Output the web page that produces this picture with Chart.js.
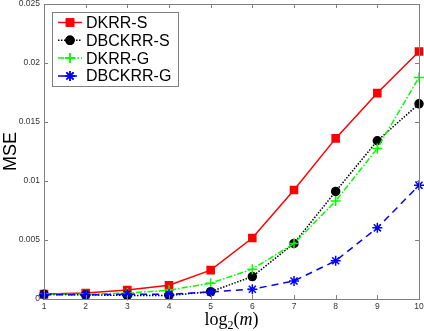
<!DOCTYPE html>
<html>
<head>
<meta charset="utf-8">
<script src="https://cdn.jsdelivr.net/npm/chart.js@4.4.1/dist/chart.umd.min.js"></script>
<style>
  html, body { margin: 0; padding: 0; background: #fff; }
  #wrap { width: 424px; height: 331px; }
</style>
</head>
<body>
<div id="wrap"><canvas id="mseChart" width="424" height="331"></canvas></div>
<script>
const logM = [1, 2, 3, 4, 5, 6, 7, 8, 9, 10];
const dkrrS = [0.00043, 0.0005, 0.00077, 0.00117, 0.00245, 0.00517, 0.00923, 0.01361, 0.01745, 0.02097];
const dbckrrS = [0.0004, 0.00035, 0.0003, 0.0003, 0.00062, 0.0019, 0.00471, 0.00912, 0.01341, 0.01654];
const dkrrG = [0.0004, 0.0004, 0.0005, 0.00074, 0.00134, 0.00253, 0.0047, 0.0083, 0.01276, 0.01878];
const dbckrrG = [0.00035, 0.00035, 0.0004, 0.0004, 0.0006, 0.00083, 0.00153, 0.00324, 0.00603, 0.00963];
const yTicks = [0, 0.005, 0.01, 0.015, 0.02, 0.025];
const yTickLabels = ["0", "0.005", "0.01", "0.015", "0.02", "0.025"];

const toPoints = (vals) => vals.map((v, i) => ({ x: logM[i], y: v }));

const seriesStyle = [
  { label: "DKRR-S", data: dkrrS, color: "#ff0000", dash: [], point: "rect", radius: 5, fill: true },
  { label: "DBCKRR-S", data: dbckrrS, color: "#000000", dash: [1.5, 1.5], point: "circle", radius: 4, fill: true },
  { label: "DKRR-G", data: dkrrG, color: "#00ff00", dash: [6, 2, 1.5, 2], point: "cross", radius: 5, fill: false },
  { label: "DBCKRR-G", data: dbckrrG, color: "#0000ff", dash: [7, 5], point: "star", radius: 5, fill: false },
];

// frame, inward ticks, x title and the legend box
const framePlugin = {
  id: "frame",
  afterDraw(chart) {
    const ctx = chart.ctx;
    const a = chart.chartArea;
    const xs = chart.scales.x;
    const ys = chart.scales.y;
    ctx.save();
    ctx.strokeStyle = "#808080";
    ctx.lineWidth = 1;
    ctx.strokeRect(Math.round(a.left) + 0.5, Math.round(a.top) + 0.5, Math.round(a.right - a.left), Math.round(a.bottom - a.top));
    ctx.beginPath();
    logM.forEach((v) => {
      const px = Math.round(xs.getPixelForValue(v)) + 0.5;
      ctx.moveTo(px, a.bottom); ctx.lineTo(px, a.bottom - 4);
      ctx.moveTo(px, a.top); ctx.lineTo(px, a.top + 4);
    });
    yTicks.forEach((v) => {
      const py = Math.round(ys.getPixelForValue(v)) + 0.5;
      ctx.moveTo(a.left, py); ctx.lineTo(a.left + 4, py);
      ctx.moveTo(a.right, py); ctx.lineTo(a.right - 4, py);
    });
    ctx.stroke();

    // x title: log_2(m)
    const parts = [
      { t: "log", f: "18px 'Liberation Serif', serif", dy: 0 },
      { t: "2", f: "12px 'Liberation Serif', serif", dy: 4 },
      { t: "(", f: "18px 'Liberation Serif', serif", dy: 0 },
      { t: "m", f: "italic 18px 'Liberation Serif', serif", dy: 0 },
      { t: ")", f: "18px 'Liberation Serif', serif", dy: 0 },
    ];
    let total = 0;
    parts.forEach((p) => { ctx.font = p.f; p.w = ctx.measureText(p.t).width; total += p.w; });
    let tx = (a.left + a.right) / 2 - total / 2;
    ctx.fillStyle = "#000";
    ctx.textBaseline = "alphabetic";
    parts.forEach((p) => { ctx.font = p.f; ctx.fillText(p.t, tx, 325 + p.dy); tx += p.w; });

    // legend
    const lx = 52, ly = 12, lw = 126, lh = 74;
    ctx.fillStyle = "#fff";
    ctx.fillRect(lx, ly, lw, lh);
    ctx.strokeStyle = "#808080";
    ctx.lineWidth = 1;
    ctx.strokeRect(lx + 0.5, ly + 0.5, lw, lh);
    ctx.font = "16px 'Liberation Sans', Arial, sans-serif";
    ctx.textBaseline = "middle";
    seriesStyle.forEach((s, i) => {
      const cy = ly + 10.5 + i * 17.8;
      ctx.strokeStyle = s.color;
      ctx.lineWidth = 1.5;
      ctx.setLineDash(s.dash);
      ctx.beginPath();
      ctx.moveTo(lx + 6, cy); ctx.lineTo(lx + 30, cy);
      ctx.stroke();
      ctx.setLineDash([]);
      ctx.fillStyle = s.color;
      Chart.helpers.drawPoint(ctx, {
        pointStyle: s.point, radius: s.radius, rotation: 0, borderWidth: 1.5
      }, lx + 18, cy);
      if (s.fill) ctx.fill();
      ctx.stroke();
      ctx.fillStyle = "#000";
      ctx.fillText(s.label, lx + 34, cy + 1);
    });
    ctx.restore();
  },
};

const addMseChart = () => {
  let ctx = document.getElementById("mseChart").getContext("2d");
  new Chart(ctx, {
    type: "line",
    data: {
      datasets: seriesStyle.map((s, i) => ({
        label: s.label,
        data: toPoints(s.data),
        borderColor: s.color,
        backgroundColor: s.fill ? s.color : "transparent",
        pointBorderColor: s.color,
        pointBackgroundColor: s.fill ? s.color : "transparent",
        borderWidth: 1.5,
        borderDash: s.dash,
        pointStyle: s.point,
        pointRadius: s.radius,
        pointBorderWidth: 1.5,
        tension: 0,
        fill: false,
        clip: false,
        order: seriesStyle.length - i,
      })),
    },
    options: {
      responsive: false,
      animation: false,
      layout: { autoPadding: false, padding: { top: 4, right: 5, left: 0, bottom: 0 } },
      plugins: { legend: { display: false }, tooltip: { enabled: false } },
      scales: {
        x: {
          type: "linear",
          min: 1,
          max: 10,
          afterBuildTicks: (axis) => { axis.ticks = logM.map((v) => ({ value: v })); },
          afterFit: (axis) => {
            axis.height = 32;
            axis.paddingLeft = 0; axis.paddingRight = 0;
          },
          grid: { display: false, drawTicks: false },
          border: { display: false },
          ticks: { color: "#333", font: { size: 8.5, family: "'Liberation Sans', Arial" }, padding: 3, maxRotation: 0 },
          title: { display: false },
        },
        y: {
          min: 0,
          max: 0.025,
          afterBuildTicks: (axis) => { axis.ticks = yTicks.map((v) => ({ value: v })); },
          afterFit: (axis) => {
            axis.width = 44;
            axis.paddingTop = 0; axis.paddingBottom = 0;
          },
          grid: { display: false, drawTicks: false },
          border: { display: false },
          ticks: {
            color: "#333",
            font: { size: 8.5, family: "'Liberation Sans', Arial" },
            padding: 4,
            callback: (v) => yTickLabels[yTicks.indexOf(v)] ?? "",
          },
          title: { display: true, text: "MSE", color: "#000", font: { size: 18, family: "'Liberation Sans', Arial" }, padding: { top: 0, bottom: 2 } },
        },
      },
    },
    plugins: [framePlugin],
  });
};

window.onload = addMseChart;
</script>
</body>
</html>
